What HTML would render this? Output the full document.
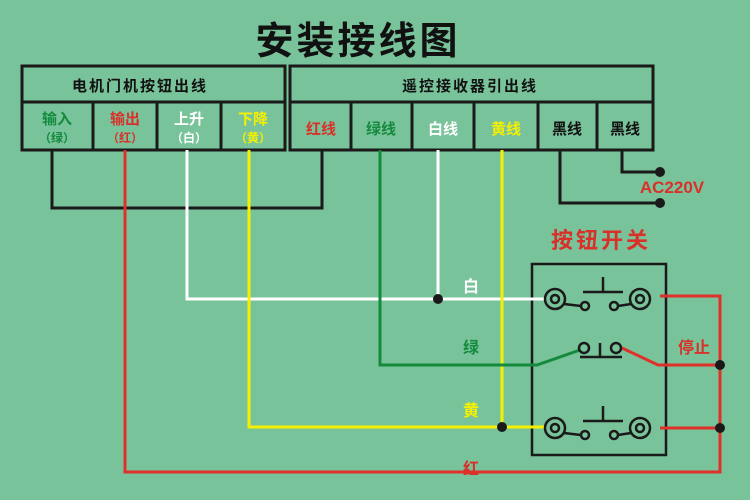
<!DOCTYPE html>
<html><head><meta charset="utf-8"><style>
body{margin:0;background:#79c39b;}
svg{display:block;font-family:"Liberation Sans","Noto Sans CJK SC",sans-serif;font-weight:bold;}
</style></head><body>
<svg width="750" height="500" viewBox="0 0 750 500">
<rect width="750" height="500" fill="#79c39b"/>
<text x="358" y="54" font-size="38" text-anchor="middle" fill="#111" letter-spacing="3">安装接线图</text>
<g fill="none" stroke="#1a1a1a" stroke-width="3">
<rect x="22" y="66" width="263" height="84"/>
<line x1="22" y1="102" x2="285" y2="102"/>
<line x1="93" y1="102" x2="93" y2="150"/>
<line x1="157" y1="102" x2="157" y2="150"/>
<line x1="221" y1="102" x2="221" y2="150"/>
<rect x="290" y="66" width="363" height="84"/>
<line x1="290" y1="102" x2="653" y2="102"/>
<line x1="351" y1="102" x2="351" y2="150"/>
<line x1="412" y1="102" x2="412" y2="150"/>
<line x1="474" y1="102" x2="474" y2="150"/>
<line x1="538" y1="102" x2="538" y2="150"/>
<line x1="597" y1="102" x2="597" y2="150"/>
<polyline points="52,150 52,208 322,208 322,150"/>
<polyline points="560,150 560,203 660,203"/>
<polyline points="622,150 622,172 660,172"/>
<rect x="532" y="264" width="134" height="191" stroke-width="2.5"/>
</g>
<g font-size="15" text-anchor="middle">
<text x="140" y="91" fill="#111" letter-spacing="2">电机门机按钮出线</text>
<text x="470" y="91" fill="#111" letter-spacing="2">遥控接收器引出线</text>
<text x="57" y="124" fill="#138a3c">输入</text>
<text x="57" y="142" font-size="12" fill="#138a3c">（绿）</text>
<text x="125" y="124" fill="#d9302a">输出</text>
<text x="125" y="142" font-size="12" fill="#d9302a">（红）</text>
<text x="189" y="124" fill="#fff">上升</text>
<text x="189" y="142" font-size="12" fill="#fff">（白）</text>
<text x="253" y="124" fill="#f5f000">下降</text>
<text x="253" y="142" font-size="12" fill="#f5f000">（黄）</text>
<text x="321" y="134" fill="#d9302a">红线</text>
<text x="381" y="134" fill="#138a3c">绿线</text>
<text x="443" y="134" fill="#fff">白线</text>
<text x="506" y="134" fill="#f5f000">黄线</text>
<text x="567" y="134" fill="#111">黑线</text>
<text x="625" y="134" fill="#111">黑线</text>
</g>
<text x="672" y="193" font-size="17" text-anchor="middle" fill="#d9302a">AC220V</text>
<text x="601" y="248" font-size="22" text-anchor="middle" fill="#d9302a" letter-spacing="3">按钮开关</text>
<g font-size="16" text-anchor="middle">
<text x="471" y="292" fill="#fff">白</text>
<text x="471" y="353" fill="#138a3c">绿</text>
<text x="471" y="416" fill="#f5f000">黄</text>
<text x="471" y="474" fill="#d9302a">红</text>
<text x="694" y="353" fill="#d9302a">停止</text>
</g>
<g fill="none" stroke-width="3">
<polyline stroke="#e0302a" points="125,150 125,472 720,472 720,296 660,296"/>
<line stroke="#e0302a" x1="660" y1="428" x2="720" y2="428"/>
<polyline stroke="#e0302a" points="622,348 658,365 720,365"/>
<polyline stroke="#fff" points="187,150 187,299 544,299"/>
<line stroke="#fff" x1="438" y1="150" x2="438" y2="299"/>
<polyline stroke="#f5f000" points="249,150 249,427 544,427"/>
<line stroke="#f5f000" x1="502" y1="150" x2="502" y2="427"/>
<polyline stroke="#138a3c" points="380,150 380,365 537,365 580,350"/>
</g>
<g fill="#1a1a1a">
<circle cx="438" cy="299" r="5"/><circle cx="502" cy="427" r="5"/>
<circle cx="660" cy="172" r="5"/><circle cx="660" cy="203" r="5"/>
<circle cx="720" cy="365" r="5"/><circle cx="720" cy="428" r="5"/>
</g>
<g fill="none" stroke="#1a1a1a" stroke-width="2.5">
<g id="sw">
<circle cx="555" cy="299" r="10"/><circle cx="555" cy="299" r="4"/>
<circle cx="640" cy="299" r="10"/><circle cx="640" cy="299" r="4"/>
<circle cx="585" cy="306" r="4"/><circle cx="614" cy="306" r="4"/>
<line x1="564" y1="304" x2="581" y2="306"/><line x1="618" y1="306" x2="631" y2="304"/>
<line x1="583" y1="292" x2="623" y2="292"/><line x1="603" y1="277" x2="603" y2="292"/>
</g>
<use href="#sw" y="129"/>
<circle cx="584" cy="348" r="5"/><circle cx="616" cy="348" r="5"/>
<line x1="580" y1="357" x2="622" y2="357"/><line x1="600" y1="343" x2="600" y2="357"/>
</g>
</svg>
</body></html>
